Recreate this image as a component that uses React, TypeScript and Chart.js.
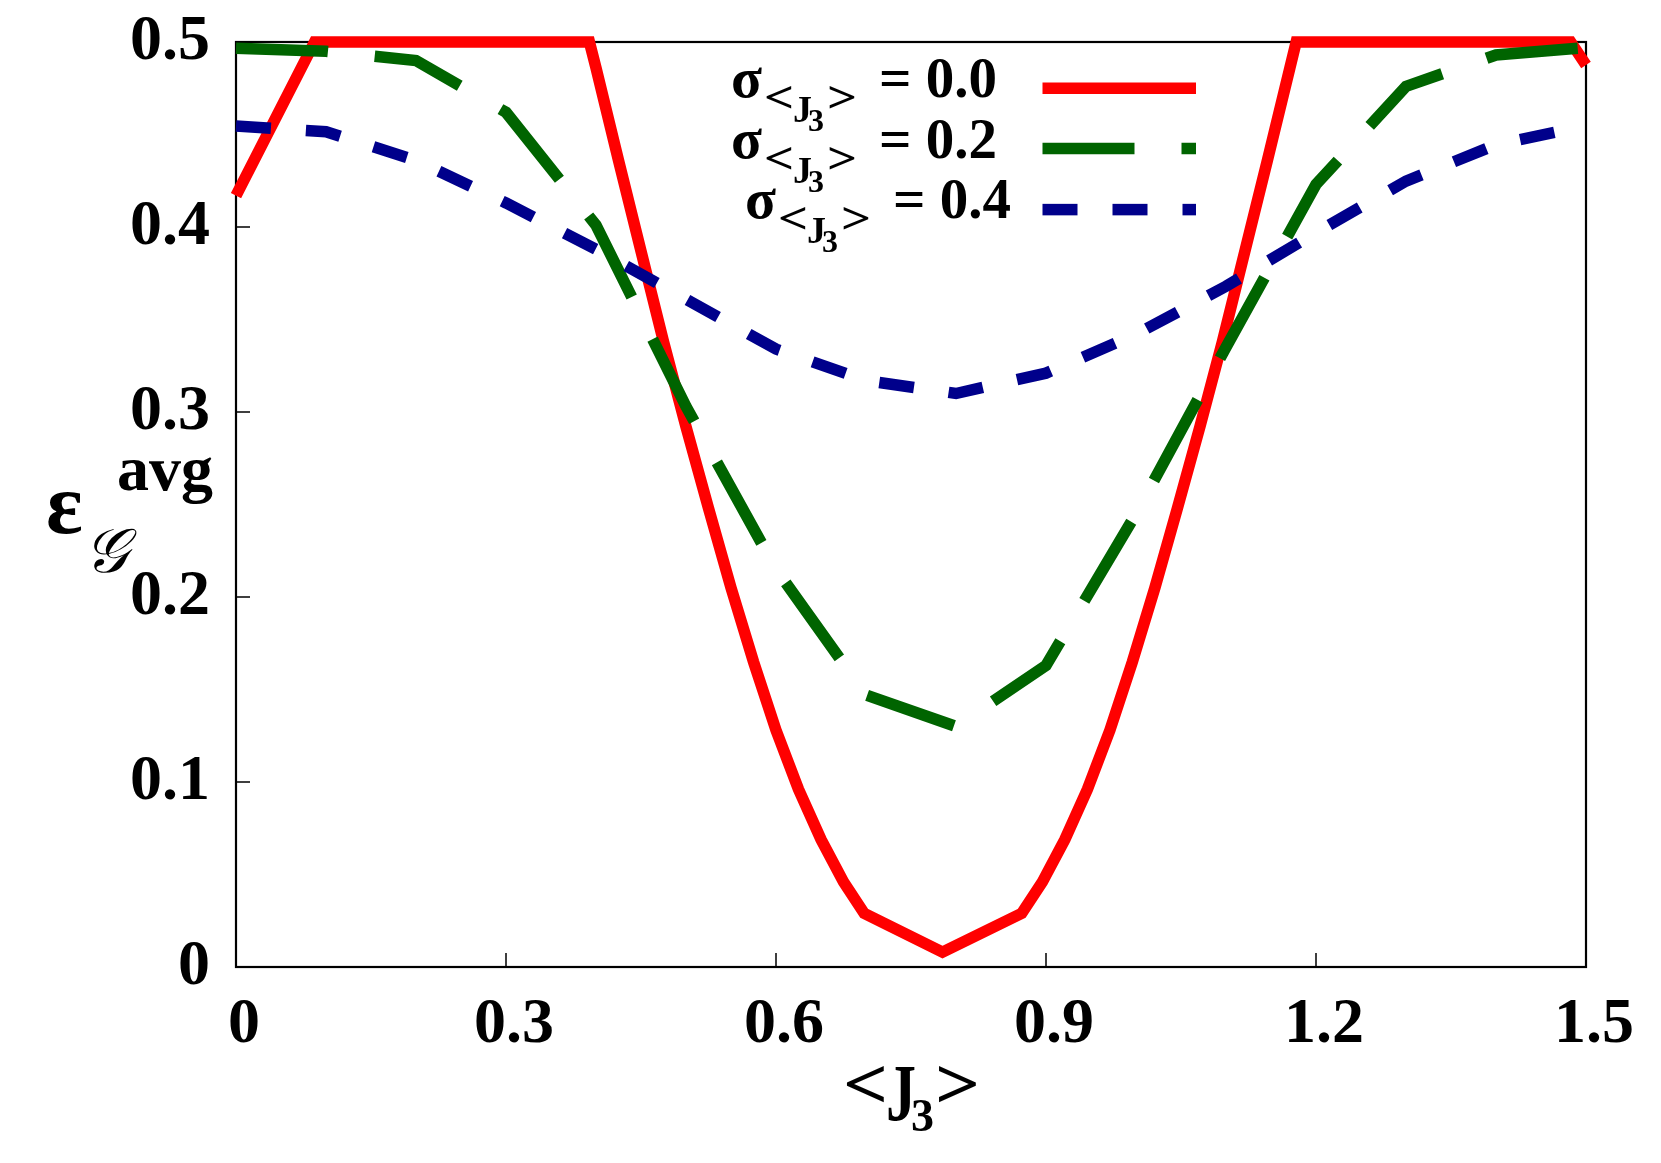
import React, { useEffect, useRef } from 'react';
import { Chart, registerables } from 'chart.js';

Chart.register(...registerables);

// ---- data ----
const redX = [0, 0.0873, 0.3927, 0.4, 0.425, 0.45, 0.475, 0.5, 0.525, 0.55, 0.575, 0.6, 0.625, 0.65, 0.675, 0.698, 0.785, 0.873, 0.896, 0.921, 0.946, 0.971, 0.996, 1.021, 1.046, 1.071, 1.096, 1.121, 1.146, 1.171, 1.178, 1.483, 1.5];
const redY = [0.417, 0.5, 0.5, 0.486, 0.436, 0.387, 0.338, 0.292, 0.248, 0.205, 0.165, 0.128, 0.096, 0.069, 0.046, 0.029, 0.008, 0.029, 0.046, 0.069, 0.096, 0.128, 0.165, 0.205, 0.248, 0.292, 0.338, 0.387, 0.436, 0.486, 0.5, 0.5, 0.4876];
const gridX = [0, 0.1, 0.2, 0.3, 0.4, 0.5, 0.6, 0.7, 0.8, 0.9, 1.0, 1.1, 1.2, 1.3, 1.4, 1.5];
const greenY = [0.4966, 0.495, 0.49, 0.462, 0.401, 0.303, 0.215, 0.147, 0.13, 0.163, 0.245, 0.335, 0.423, 0.476, 0.493, 0.497];
const blueY = [0.4546, 0.4515, 0.436, 0.413, 0.388, 0.361, 0.334, 0.317, 0.31, 0.321, 0.342, 0.368, 0.397, 0.4248, 0.4445, 0.4547];
const xTicks = [0, 0.3, 0.6, 0.9, 1.2, 1.5];
const yTicks = [0, 0.1, 0.2, 0.3, 0.4, 0.5];
const sigmaValues = ['0.0', '0.2', '0.4'];
const colors = ['#ff0000', '#006400', '#00008b'];
const dashes: number[][] = [[], [92, 47], [35, 35]];

const W = 1661;
const H = 1163;
const SERIF = '"Liberation Serif", "Times New Roman", serif';
const LW = 11.5;

const pts = (xs: number[], ys: number[]) => xs.map((x, i) => ({ x, y: ys[i] }));
const fmt = (v: number) => (Math.abs(v) < 1e-9 ? '0' : Number(v).toFixed(1));

function txt(ctx: CanvasRenderingContext2D, s: string, x: number, y: number, font: string, sx = 1) {
  ctx.save();
  ctx.font = font;
  ctx.translate(x, y);
  ctx.scale(sx, 1);
  ctx.fillText(s, 0, 0);
  ctx.restore();
}

const overlay = {
  id: 'overlay',
  beforeDatasetsDraw(chart: any) {
    const { ctx, chartArea: a } = chart;
    const xs = chart.scales.x;
    const ys = chart.scales.y;
    ctx.save();
    ctx.strokeStyle = '#000';
    ctx.lineWidth = 1.5;
    ctx.beginPath();
    xTicks.forEach((v) => {
      const p = xs.getPixelForValue(v);
      ctx.moveTo(p, a.bottom);
      ctx.lineTo(p, a.bottom - 14);
    });
    yTicks.forEach((v) => {
      const p = ys.getPixelForValue(v);
      ctx.moveTo(a.left, p);
      ctx.lineTo(a.left + 14, p);
    });
    ctx.stroke();
    ctx.lineWidth = 2.2;
    ctx.strokeRect(a.left, a.top, a.right - a.left, a.bottom - a.top);
    ctx.restore();
  },
  afterDraw(chart: any) {
    const { ctx } = chart;
    ctx.save();
    ctx.fillStyle = '#000';
    ctx.textAlign = 'left';
    ctx.textBaseline = 'alphabetic';

    // legend
    const rows = [
      { x: 731, base: 97, ly: 88.2 },
      { x: 731, base: 157.5, ly: 148.6 },
      { x: 745, base: 218, ly: 209.6 },
    ];
    rows.forEach((r, i) => {
      ctx.fillStyle = '#000';
      txt(ctx, 'σ', r.x, r.base, `bold 57px ${SERIF}`);
      txt(ctx, '<', r.x + 33, r.base + 15, `bold 44px ${SERIF}`, 1.2);
      txt(ctx, 'J', r.x + 62, r.base + 25, `bold 38px ${SERIF}`);
      txt(ctx, '3', r.x + 77, r.base + 34, `bold 32px ${SERIF}`);
      txt(ctx, '>', r.x + 96, r.base + 15, `bold 44px ${SERIF}`, 1.2);
      txt(ctx, '= ' + sigmaValues[i], r.x + 148, r.base, `bold 57px ${SERIF}`);

      ctx.strokeStyle = colors[i];
      ctx.lineWidth = LW;
      ctx.lineCap = 'butt';
      ctx.setLineDash(dashes[i]);
      ctx.beginPath();
      ctx.moveTo(1042.5, r.ly);
      ctx.lineTo(1196, r.ly);
      ctx.stroke();
      ctx.setLineDash([]);
    });

    // y-axis title
    ctx.fillStyle = '#000';
    txt(ctx, 'ε', 46, 533, `bold 86px ${SERIF}`);
    txt(ctx, 'avg', 117, 490, `bold 64px ${SERIF}`);
    txt(ctx, '𝒢', 84, 572, `italic 62px "DejaVu Serif", "DejaVu Sans", ${SERIF}`);

    // x-axis title
    txt(ctx, '<', 843, 1108, `bold 72px ${SERIF}`, 1.1);
    txt(ctx, 'J', 886, 1120, `bold 80px ${SERIF}`, 0.75);
    txt(ctx, '3', 911, 1131, `bold 46px ${SERIF}`);
    txt(ctx, '>', 935, 1108, `bold 72px ${SERIF}`, 1.1);
    ctx.restore();
  },
};

export default function App() {
  const ref = useRef<HTMLCanvasElement | null>(null);
  useEffect(() => {
    document.body.style.margin = '0';
    const canvas = ref.current;
    if (!canvas) return;
    const chart = new Chart(canvas, {
      type: 'line',
      data: {
        datasets: [
          { label: 'σ<J3> = 0.0', data: pts(redX, redY), borderColor: colors[0], borderWidth: LW, borderDash: dashes[0], pointRadius: 0, fill: false, tension: 0, order: 3, clip: false } as any,
          { label: 'σ<J3> = 0.2', data: pts(gridX, greenY), borderColor: colors[1], borderWidth: LW, borderDash: dashes[1], pointRadius: 0, fill: false, tension: 0, order: 2, clip: false } as any,
          { label: 'σ<J3> = 0.4', data: pts(gridX, blueY), borderColor: colors[2], borderWidth: LW, borderDash: dashes[2], pointRadius: 0, fill: false, tension: 0, order: 1, clip: false } as any,
        ],
      },
      options: {
        responsive: false,
        animation: false,
        devicePixelRatio: 1,
        layout: { padding: { top: 42, right: 75, left: 0, bottom: 0 } },
        plugins: { legend: { display: false }, tooltip: { enabled: false } },
        elements: { line: { borderCapStyle: 'butt', borderJoinStyle: 'miter' } },
        scales: {
          x: {
            type: 'linear',
            min: 0,
            max: 1.5,
            grid: { display: false, drawTicks: false },
            border: { display: false },
            afterBuildTicks: (s: any) => { s.ticks = xTicks.map((v) => ({ value: v })); },
            afterFit: (s: any) => {
              s.height = H - 967;
              s.paddingLeft = 0;
              s.paddingRight = 0;
              s.paddingTop = 0;
              s.paddingBottom = 0;
            },
            ticks: {
              color: '#000',
              font: { family: SERIF, weight: 'bold', size: 64 },
              padding: 20,
              labelOffset: 8,
              maxRotation: 0,
              autoSkip: false,
              callback: (v: any) => fmt(Number(v)),
            },
          },
          y: {
            type: 'linear',
            min: 0,
            max: 0.5,
            grid: { display: false, drawTicks: false },
            border: { display: false },
            afterBuildTicks: (s: any) => { s.ticks = yTicks.map((v) => ({ value: v })); },
            afterFit: (s: any) => {
              s.width = 236;
              s.paddingTop = 0;
              s.paddingBottom = 0;
              s.paddingLeft = 0;
              s.paddingRight = 0;
            },
            ticks: {
              color: '#000',
              font: { family: SERIF, weight: 'bold', size: 64 },
              padding: 26,
              autoSkip: false,
              callback: (v: any) => fmt(Number(v)),
            },
          },
        },
      } as any,
      plugins: [overlay],
    });
    return () => chart.destroy();
  }, []);
  return (
    <div style={{ width: W, height: H, background: '#fff' }}>
      <canvas ref={ref} width={W} height={H} style={{ display: 'block' }} />
    </div>
  );
}
